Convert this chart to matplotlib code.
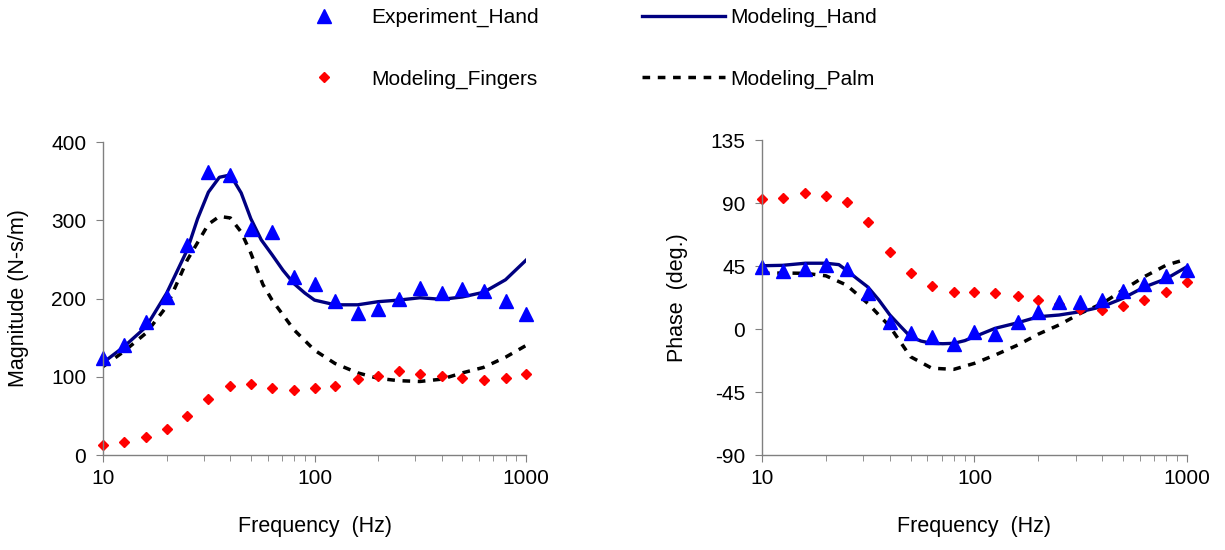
import numpy as np
import matplotlib.pyplot as plt
from matplotlib.ticker import FixedLocator, NullFormatter, FixedFormatter

plt.rcParams["font.family"] = ["Liberation Sans", "DejaVu Sans"]
plt.rcParams["axes.unicode_minus"] = False

# 1/3 octave measurement frequencies
freq = [10, 12.5, 16, 20, 25, 31.5, 40, 50, 63, 80, 100, 125, 160, 200, 250,
        315, 400, 500, 630, 800, 1000]

# magnitude (N-s/m)
mag_exp = [124, 141, 170, 202, 268, 362, 358, 289, 285, 228, 218, 197, 182,
           187, 200, 213, 207, 212, 210, 197, 180]
mag_fingers = [13, 17, 23, 33, 50, 71, 88, 91, 86, 83, 86, 88, 97, 101, 107,
               104, 101, 98, 96, 98, 104]
mag_hand_f = [10, 12.5, 16, 20, 25, 28, 31.5, 35.5, 40, 45, 50, 56, 63, 71, 80,
              90, 100, 125, 160, 200, 250, 315, 400, 500, 630, 800, 1000]
mag_hand = [118, 138, 164, 207, 262, 302, 336, 355, 358, 335, 302, 275, 256,
            236, 219, 207, 198, 192, 192, 196, 198, 201, 199, 202, 208, 224, 249]
mag_palm_f = [10, 12.5, 16, 20, 25, 31.5, 35.5, 40, 45, 50, 57, 63, 80, 100,
              125, 160, 200, 250, 315, 400, 500, 630, 800, 1000]
mag_palm = [113, 132, 156, 190, 249, 295, 305, 303, 285, 258, 218, 198, 160,
            134, 117, 105, 98, 95, 94, 97, 105, 112, 125, 140]

# phase (deg.)
ph_exp = [44.5, 41.7, 43, 46, 43, 26, 5, -3, -5.5, -11, -2, -3.5, 5, 12, 19.5,
          19.5, 21, 27, 32, 38, 42]
ph_fingers = [92.6, 93.8, 97, 95, 91, 76.7, 55, 39.8, 31, 26.7, 26.7, 25.5,
              23.8, 20.7, 18, 14.3, 13.6, 16.7, 20.7, 26.7, 33.8]
ph_hand_f = [10, 12.5, 16, 20, 23, 25, 28, 31.5, 35.5, 40, 45, 50, 56, 63, 71,
             80, 90, 100, 125, 160, 200, 250, 315, 400, 500, 630, 800, 1000]
ph_hand = [45.2, 45.5, 47, 47, 46, 42, 36, 30, 20.7, 10, 1.7, -5.5, -8.6, -10.2,
           -10.5, -10.2, -8.3, -5.5, 0.5, 4.5, 8.8, 10, 12.4, 16, 22, 30, 36, 44.5]
ph_palm = [39.8, 40, 39.8, 38, 31.4, 18.3, 1.7, -19.8, -28, -28.8, -24.5, -18.6,
           -11.4, -3.6, 2.9, 11.2, 18.3, 27.9, 37.4, 45.7, 50]

fig = plt.figure(figsize=(12.25, 5.5), dpi=100)
ax1 = fig.add_axes([0.0841, 0.1727, 0.3453, 0.569])
ax2 = fig.add_axes([0.622, 0.1727, 0.347, 0.5727])

navy = "#000080"
dash = (0, (2.2, 2.2))

for ax, exp, fing, hf, hand, pf, palm in [
    (ax1, mag_exp, mag_fingers, mag_hand_f, mag_hand, mag_palm_f, mag_palm),
    (ax2, ph_exp, ph_fingers, ph_hand_f, ph_hand, freq, ph_palm),
]:
    ax.plot(pf, palm, color="black", lw=2.5, linestyle=dash, label="Modeling_Palm")
    ax.plot(hf, hand, color=navy, lw=2.4, label="Modeling_Hand")
    ax.plot(freq, fing, "D", color="red", markersize=5.5, linestyle="none",
            clip_on=False, label="Modeling_Fingers")
    ax.plot(freq, exp, "^", color="blue", markersize=10, linestyle="none",
            clip_on=False, label="Experiment_Hand")
    ax.set_xscale("log")
    ax.set_xlim(10, 1000)
    ax.xaxis.set_major_locator(FixedLocator([10, 100, 1000]))
    ax.xaxis.set_major_formatter(FixedFormatter(["10", "100", "1000"]))
    ax.xaxis.set_minor_locator(FixedLocator(
        [k * d for d in (10, 100) for k in range(2, 10)]))
    ax.xaxis.set_minor_formatter(NullFormatter())
    for s in ("top", "right"):
        ax.spines[s].set_visible(False)
    for s in ("left", "bottom"):
        ax.spines[s].set_color("#808080")
        ax.spines[s].set_linewidth(1.0)
    ax.tick_params(which="both", direction="out", color="#808080", labelsize=15)
    ax.tick_params(axis="x", which="major", length=5, pad=5)
    ax.tick_params(axis="y", which="major", length=5, pad=7)
    ax.tick_params(which="minor", length=4)
    ax.set_xlabel("Frequency  (Hz)", fontsize=15.5, labelpad=20)

ax1.set_ylim(0, 400)
ax1.set_yticks([0, 100, 200, 300, 400])
ax1.set_ylabel("Magnitude (N-s/m)", fontsize=15.5, labelpad=16)

ax2.set_ylim(-90, 135)
ax2.set_yticks([-90, -45, 0, 45, 90, 135])
ax2.set_ylabel("Phase  (deg.)", fontsize=15.5, labelpad=16)

h, l = ax1.get_legend_handles_labels()
order = [3, 2, 1, 0]
fig.legend([h[i] for i in order], [l[i] for i in order], loc="center left",
           bbox_to_anchor=(0.2154, 0.912), ncol=2, frameon=False, fontsize=15,
           handlelength=4.0, handletextpad=0.25, labelspacing=2.05,
           columnspacing=4.95)

fig.savefig("out.png", dpi=100)
